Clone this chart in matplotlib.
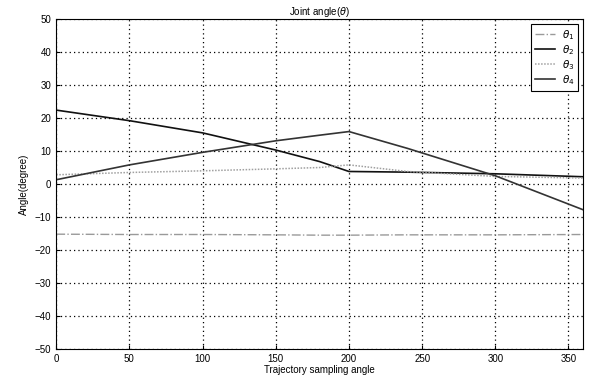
import matplotlib.pyplot as plt

x = [0, 50, 100, 150, 180, 200, 240, 300, 360]
theta1 = [-15.2, -15.3, -15.3, -15.4, -15.5, -15.5, -15.4, -15.4, -15.3]
theta2 = [22.4, 19.2, 15.5, 10.3, 6.8, 3.8, 3.6, 3.1, 2.2]
theta3 = [2.8, 3.5, 4.0, 4.6, 5.0, 5.8, 3.8, 2.3, 1.8]
theta4 = [1.3, 5.8, 9.6, 13.1, 14.8, 15.9, 10.8, 2.5, -7.8]

plt.rcParams['font.family'] = ['Liberation Sans', 'DejaVu Sans']

fig = plt.figure(figsize=(5.92, 3.81), dpi=100)
ax = fig.add_axes([0.095, 0.084, 0.89, 0.866])

ax.plot(x, theta1, color='#9a9a9a', lw=1.0, ls='-.', label=r'$\theta_1$')
ax.plot(x, theta2, color='#111111', lw=1.2, label=r'$\theta_2$')
ax.plot(x, theta3, color='#a0a0a0', lw=1.1, ls=(0, (1, 1)), label=r'$\theta_3$')
ax.plot(x, theta4, color='#333333', lw=1.2, label=r'$\theta_4$')

ax.set_xlim(0, 360)
ax.set_ylim(-50, 50)
ax.set_xticks(range(0, 351, 50))
ax.set_yticks(range(-50, 51, 10))
ax.tick_params(direction='in', labelsize=7, length=3)
ax.grid(True, color='black', ls=(0, (1, 2.5)), lw=0.9)

ax.set_title(r'Joint angle($\theta$)', fontsize=7, pad=2)
ax.set_xlabel('Trajectory sampling angle', fontsize=7, labelpad=1)
ax.set_ylabel('Angle(degree)', fontsize=7, labelpad=4)

leg = ax.legend(loc='upper right', fontsize=7.5, fancybox=False, edgecolor='black',
                handlelength=2.0, handletextpad=0.6, labelspacing=0.12,
                borderpad=0.35, borderaxespad=0.5, framealpha=1)
leg.get_frame().set_linewidth(0.8)

fig.savefig('out.png', dpi=100)
